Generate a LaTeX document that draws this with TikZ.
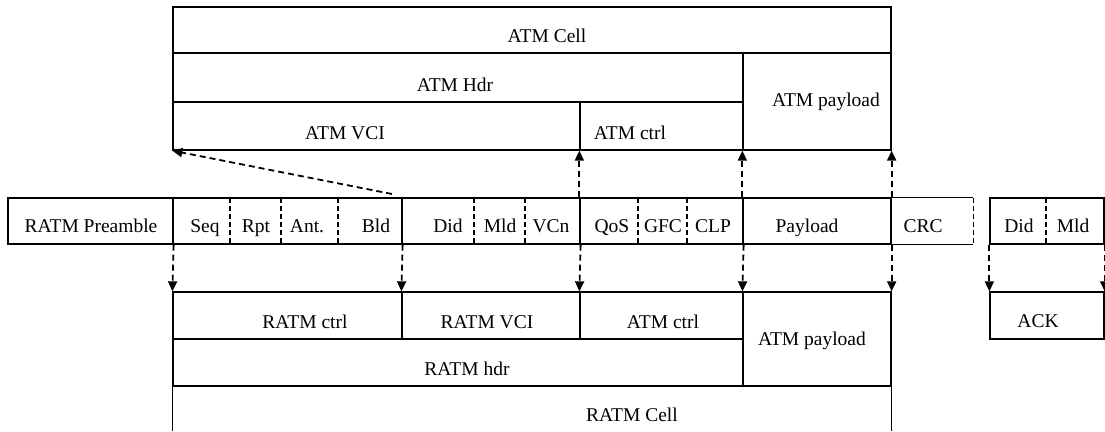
\documentclass[tikz,border=0pt]{standalone}
\usepackage{fontspec}
\setmainfont{Liberation Serif}
\usetikzlibrary{arrows.meta, fit}

\begin{document}
\begin{tikzpicture}[x=1pt,y=-1pt,font=\fontsize{19.5}{22}\selectfont,
    box/.style={draw,line width=1.3pt,inner sep=0pt},
    area/.style={inner sep=0pt},
    lbl/.style={anchor=base,inner sep=0pt},
    sep/.style={line width=1.3pt,dash pattern=on 5pt off 3pt},
    link/.style={line width=1.8pt,dash pattern=on 6pt off 4pt,-{Triangle[length=10pt,width=9pt]}}]
\useasboundingbox (0,0) rectangle (1105,431);

    % ATM cell (top)
    \node[box,fit={(173,7)(891,53)}] (atmcell) {};
    \node[box,fit={(173,53)(743,102)}] (atmhdr) {};
    \node[box,fit={(743,53)(891,150)}] (atmpay) {};
    \node[box,fit={(173,102)(580,150)}] (atmvci) {};
    \node[box,fit={(580,102)(743,150)}] (atmctrl) {};
    \node[lbl] (tcell) at (547,42) {ATM Cell};
    \node[lbl] (thdr) at (455,91) {ATM Hdr};
    \node[lbl] (tpay) at (826,106) {ATM payload};
    \node[lbl] (tvci) at (345,139) {ATM VCI};
    \node[lbl] (tctrl) at (630,139) {ATM ctrl};

    % RATM frame (middle)
    \node[box,fit={(8,198)(173,244)}] (pre) {};
    \node[box,fit={(173,198)(402,244)}] (grpa) {};
    \node[box,fit={(402,198)(580,244)}] (grpb) {};
    \node[box,fit={(580,198)(743,244)}] (grpc) {};
    \node[box,fit={(743,198)(891,244)}] (pay) {};
    \node[area,fit={(891,198)(973,244)}] (crc) {};
    \node[box,fit={(990,198)(1104,244)}] (ackhdr) {};
    \draw[line width=1.3pt] (crc.north west) -- (crc.north east);
    \draw[line width=1.3pt] (crc.south west) -- (crc.south east);
    \draw[sep] (crc.north east) -- (crc.south east);
    \draw[sep] (230,198) -- (230,244);
    \draw[sep] (281,198) -- (281,244);
    \draw[sep] (338,198) -- (338,244);
    \draw[sep] (474,198) -- (474,244);
    \draw[sep] (525,198) -- (525,244);
    \draw[sep] (638,198) -- (638,244);
    \draw[sep] (687,198) -- (687,244);
    \draw[sep] (1046,198) -- (1046,244);

    \node[lbl] (tpre) at (91,232) {RATM Preamble};
    \node[lbl] (tseq) at (205,232) {Seq};
    \node[lbl] (trpt) at (256,232) {Rpt};
    \node[lbl] (tant) at (307,232) {Ant.};
    \node[lbl] (tbld) at (376,232) {Bld};
    \node[lbl] (tdid) at (448,232) {Did};
    \node[lbl] (tmld) at (500,232) {Mld};
    \node[lbl] (tvcn) at (551,232) {VCn};
    \node[lbl] (tqos) at (612,232) {QoS};
    \node[lbl] (tgfc) at (663,232) {GFC};
    \node[lbl] (tclp) at (713,232) {CLP};
    \node[lbl] (tpl) at (807,232) {Payload};
    \node[lbl] (tcrc) at (923,232) {CRC};
    \node[lbl] (tadid) at (1019,232) {Did};
    \node[lbl] (tamld) at (1073,232) {Mld};

    % RATM cell (bottom)
    \node[box,fit={(173,292)(402,339)}] (ratmctrl) {};
    \node[box,fit={(402,292)(580,339)}] (ratmvci) {};
    \node[box,fit={(580,292)(743,339)}] (ratmactrl) {};
    \node[box,fit={(173,339)(743,386)}] (ratmhdr) {};
    \node[box,fit={(743,292)(891,386)}] (ratmpay) {};
    \node[area,fit={(173,386)(891,431)}] (ratmcell) {};
    \draw[line width=1.3pt] (ratmcell.south west) -- (ratmcell.north west)
        -- (ratmcell.north east) -- (ratmcell.south east);
    \node[box,fit={(990,292)(1104,339)}] (ack) {};
    \node[lbl] (trctrl) at (305,328) {RATM ctrl};
    \node[lbl] (trvci) at (487,328) {RATM VCI};
    \node[lbl] (tractrl) at (663,328) {ATM ctrl};
    \node[lbl] (trpay) at (812,345) {ATM payload};
    \node[lbl] (trhdr) at (467,375) {RATM hdr};
    \node[lbl] (trcell) at (632,421) {RATM Cell};
    \node[lbl] (tack) at (1038,327) {ACK};

    % mappings
    \coordinate (vcifrom) at (392,194);
    \draw[link] (vcifrom) -- (atmvci.south west);
    \draw[link] (grpc.north west) -- (atmctrl.south west);
    \draw[link] (pay.north west) -- (atmpay.south west);
    \draw[link] (pay.north east) -- (atmpay.south east);

    \draw[link] (pre.south east) -- (ratmctrl.north west);
    \draw[link] (grpa.south east) -- (ratmvci.north west);
    \draw[link] (grpb.south east) -- (ratmactrl.north west);
    \draw[link] (grpc.south east) -- (ratmpay.north west);
    \draw[link] (pay.south east) -- (ratmpay.north east);
    \draw[link] (ackhdr.south west) -- (ack.north west);
    \draw[link] (ackhdr.south east) -- (ack.north east);
\end{tikzpicture}
\end{document}
